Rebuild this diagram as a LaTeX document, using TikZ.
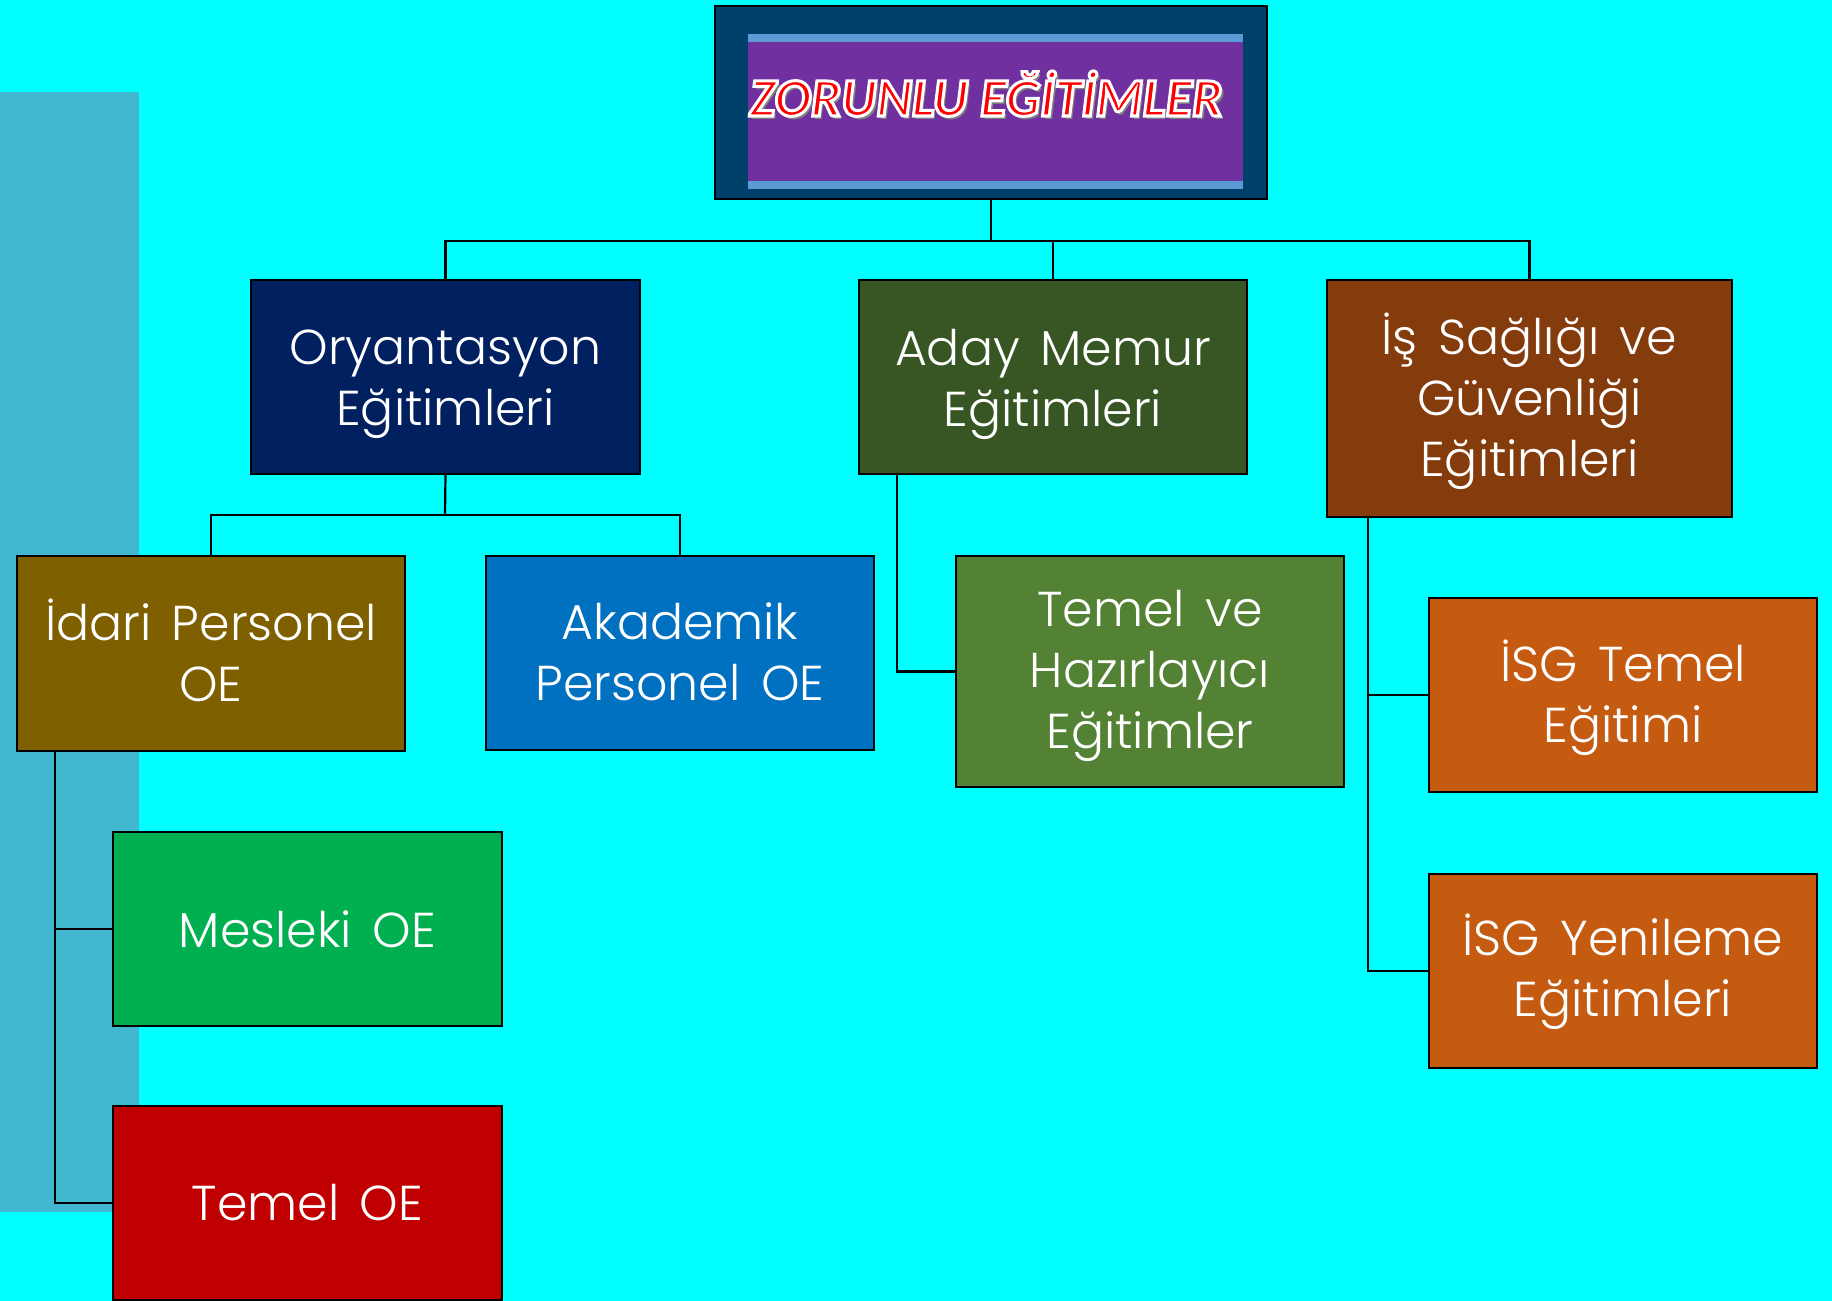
\documentclass[tikz,border=0pt]{standalone}
\usepackage{fontspec}
\newfontfamily\boxfont{Poppins Light}
\newfontfamily\titlefont{Carlito}
\definecolor{bgcyan}{HTML}{00FFFF}
\definecolor{panel}{HTML}{41B8D0}
\definecolor{titleout}{HTML}{00416B}
\definecolor{titlein}{HTML}{7030A0}
\definecolor{stripe}{HTML}{5B9BD5}
\definecolor{cory}{HTML}{002060}
\definecolor{caday}{HTML}{375623}
\definecolor{cisg}{HTML}{843C0C}
\definecolor{cidari}{HTML}{7F6000}
\definecolor{cakad}{HTML}{0070C0}
\definecolor{cthaz}{HTML}{548235}
\definecolor{cisgs}{HTML}{C55A11}
\definecolor{cmes}{HTML}{00B050}
\definecolor{ctoe}{HTML}{C00000}
\newcommand\ttltext{ZORUNLU EĞİTİMLER}
\newcommand\outlined[1]{\special{pdf:literal direct 1 1 1 RG 2 Tr 3 w}#1\special{pdf:literal direct 0 Tr 1 w}}
\newcommand\wsp{\hspace{0.42em}}
\tikzset{
  box/.style={draw=black, line width=2pt, fill=#1, text=white, align=center,
    inner sep=0pt, minimum width=388pt, minimum height=194pt,
    font=\boxfont\fontsize{49}{61}\selectfont},
  boxtext/.style={text=white, align=center, inner sep=0pt,
    font=\boxfont\fontsize{49}{61}\selectfont},
  conn/.style={draw=black, line width=2.2pt},
  ttl/.style={font=\titlefont\bfseries\itshape\fontsize{54}{60}\selectfont, inner sep=0pt, anchor=base}
}
\begin{document}
\begin{tikzpicture}[x=1pt,y=-1pt]
\useasboundingbox (0,0) rectangle (1832,1301);
\fill[bgcyan] (0,0) rectangle (1832,1301);
\fill[panel] (0,92) rectangle (139,1212);
% title
\node[draw=black, line width=2.2pt, fill=titleout, minimum width=552pt, minimum height=193pt, inner sep=0pt] (title) at (991,102.5) {};
\fill[titlein] (748,34) rectangle (1243,189);
\fill[stripe] (748,34) rectangle (1243,42);
\fill[stripe] (748,181) rectangle (1243,189);
\node[ttl, text=black!50] (tsh) at (989,119) {\ttltext};
\node[ttl, text=red] (tred) at (986,116) {\outlined{\ttltext}};
% boxes
\node[box=cory, minimum width=389pt] (ory) at (445.5,377) {};
\node[boxtext] (oryt) at (445.5,384) {Oryantasyon\\Eğitimleri};
\node[box=caday] (aday) at (1053,377) {};
\node[boxtext] (adayt) at (1053,384) {Aday\wsp Memur\\Eğitimleri};
\node[box=cisg, minimum width=405pt, minimum height=237pt] (isg) at (1529.5,398.5) {};
\node[boxtext] (isgtx) at (1529.5,401) {İş\wsp Sağlığı\wsp ve\\Güvenliği\\Eğitimleri};
\node[box=cidari, minimum height=195pt] (idari) at (211,653.5) {};
\node[boxtext] (idarit) at (211,650) {İdari\wsp Personel\\OE};
\node[box=cakad] (akad) at (680,653) {};
\node[boxtext] (akadt) at (680,652) {Akademik\\Personel\wsp OE};
\node[box=cthaz, minimum height=231pt] (thaz) at (1150,671.5) {};
\node[boxtext] (thazt) at (1150,676) {Temel\wsp ve\\Hazırlayıcı\\Eğitimler};
\node[box=cisgs] (isgt) at (1623,695) {};
\node[boxtext] (isgtt) at (1623,698) {İSG\wsp Temel\\Eğitimi};
\node[box=cisgs] (isgy) at (1623,971) {};
\node[boxtext] (isgyt) at (1623,972) {İSG\wsp Yenileme\\Eğitimleri};
\node[box=cmes, minimum width=389pt] (mes) at (307.5,929) {};
\node[boxtext] (mest) at (307.5,929) {Mesleki\wsp OE};
\node[box=ctoe, minimum width=389pt] (toe) at (307.5,1203) {};
\node[boxtext] (toet) at (307.5,1203) {Temel\wsp OE};
% connectors
\coordinate (bus) at (991,241);
\coordinate (obus) at (445,515);
\coordinate (ix) at (55,0);
\coordinate (ax) at (897,0);
\coordinate (sx) at (1368,0);
\draw[conn] (title.south) -- (bus);
\draw[conn] (ory.north) -- (ory.north |- bus) -- (isg.north |- bus) -- (isg.north);
\draw[conn] (aday.north) -- (aday.north |- bus);
\draw[conn] (ory.south) -- (obus);
\draw[conn] (idari.north) -- (idari.north |- obus) -- (akad.north |- obus) -- (akad.north);
\draw[conn] (idari.south -| ix) -- (toe.west -| ix) -- (toe.west);
\draw[conn] (mes.west -| ix) -- (mes.west);
\draw[conn] (aday.south -| ax) -- (thaz.west -| ax) -- (thaz.west);
\draw[conn] (isg.south -| sx) -- (isgy.west -| sx) -- (isgy.west);
\draw[conn] (isgt.west -| sx) -- (isgt.west);
\end{tikzpicture}
\end{document}
